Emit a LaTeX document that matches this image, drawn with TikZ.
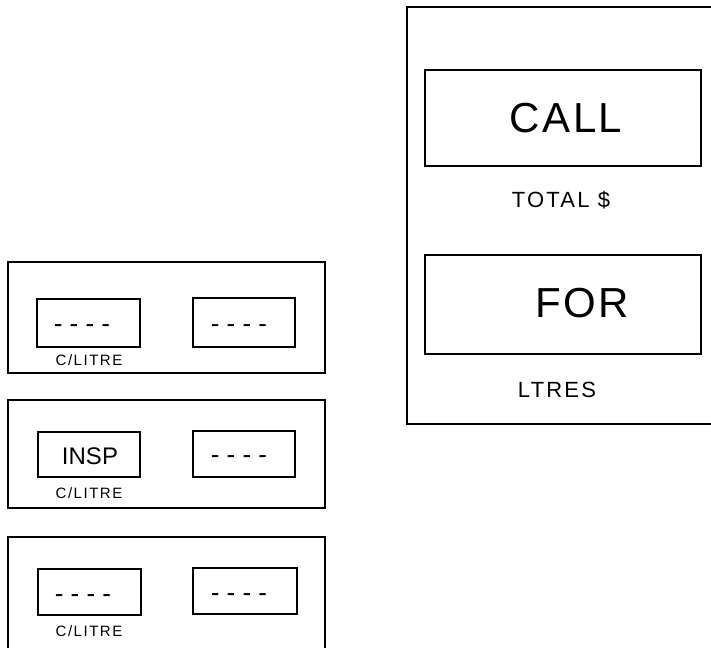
\documentclass[tikz,border=0pt]{standalone}
\usepackage{fontspec}
\setmainfont{Liberation Sans}
\begin{document}
\begin{tikzpicture}[x=1pt,y=-1pt,
  frame/.style={draw, line width=1.4pt},
  disp/.style={draw, line width=1.4pt, inner sep=0pt},
  big/.style={font=\fontsize{42}{44}\selectfont\addfontfeature{LetterSpace=6}},
  mid/.style={font=\fontsize{22}{24}\selectfont\addfontfeature{LetterSpace=10}},
  small/.style={font=\fontsize{15}{16}\selectfont\addfontfeature{LetterSpace=10}},
  dashtxt/.style={font=\fontsize{26}{26}\selectfont},
  insp/.style={font=\fontsize{24}{26}\selectfont}]
\useasboundingbox (0,0) rectangle (711,647);
\clip (0,0) rectangle (711,647);
% right panel
\node[frame, minimum width=323pt, minimum height=417pt, inner sep=0pt] (rpanel) at (568.5,215.5) {};
\node[disp, minimum width=276pt, minimum height=96pt] (callbox) at (563,118) {};
\node[disp, minimum width=276pt, minimum height=99pt] (forbox) at (563,304.5) {};
\node[big] (calltxt) at (566,118) {CALL};
\node[big] (fortxt) at (582,303) {FOR};
\node[mid] (total) at (561,200) {TOTAL \$};
\node[mid] (ltres) at (557,390) {LTRES};
% left panel 1
\node[frame, minimum width=317pt, minimum height=111pt, inner sep=0pt] (p1) at (166.5,317.5) {};
\node[disp, minimum width=103pt, minimum height=48pt] (p1a) at (88.5,323) {};
\node[disp, minimum width=102pt, minimum height=49pt] (p1b) at (244,322.5) {};
\node[dashtxt] (p1ad) at (82,329) {- - - -};
\node[dashtxt] (p1bd) at (239,329) {- - - -};
\node[small] (p1l) at (89,360) {C/LITRE};
% left panel 2
\node[frame, minimum width=317pt, minimum height=108pt, inner sep=0pt] (p2) at (166.5,454) {};
\node[disp, minimum width=102pt, minimum height=45pt] (p2a) at (89,454.5) {};
\node[disp, minimum width=102pt, minimum height=46pt] (p2b) at (244,454) {};
\node[insp] (p2at) at (90,456) {INSP};
\node[dashtxt] (p2bd) at (239,460) {- - - -};
\node[small] (p2l) at (89,493) {C/LITRE};
% left panel 3
\node[frame, minimum width=317pt, minimum height=143pt, inner sep=0pt] (p3) at (166.5,608.5) {};
\node[disp, minimum width=103pt, minimum height=46pt] (p3a) at (89.5,592) {};
\node[disp, minimum width=104pt, minimum height=46pt] (p3b) at (245,591) {};
\node[dashtxt] (p3ad) at (83,599) {- - - -};
\node[dashtxt] (p3bd) at (239,598) {- - - -};
\node[small] (p3l) at (89,631) {C/LITRE};
\end{tikzpicture}
\end{document}
